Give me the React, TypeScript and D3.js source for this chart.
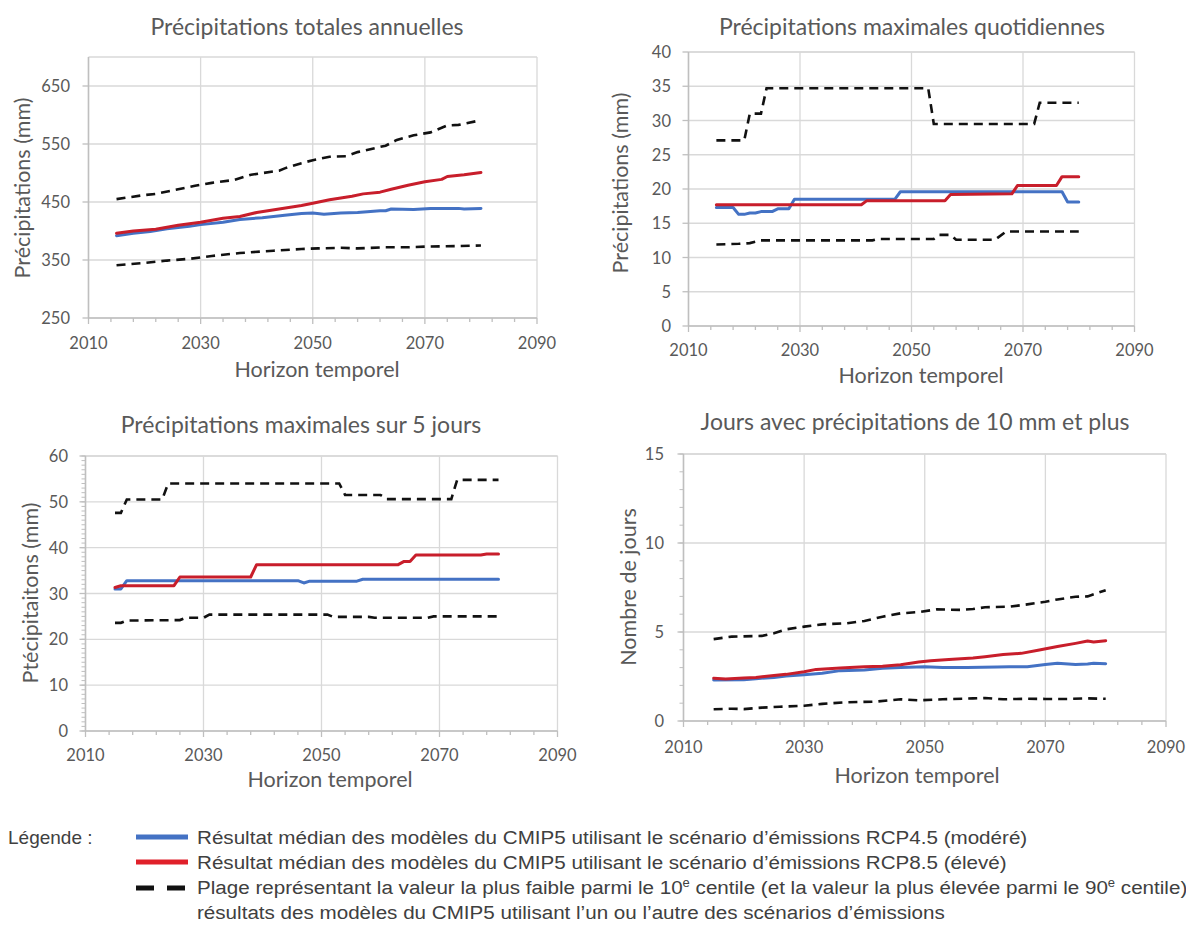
import React from 'react';
import * as d3 from 'd3';

type Pt = [number, number];

// Précipitations totales annuelles (mm)
const totalRcp45: Pt[] = [[2015, 392], [2018, 396], [2021, 399], [2024, 404], [2028, 408], [2030, 411], [2034, 415], [2037, 420], [2041, 423], [2045, 427], [2048, 430], [2050, 431], [2052, 429], [2055, 431], [2058, 432], [2062, 435], [2063, 435], [2064, 438], [2068, 437], [2071, 439], [2074, 439], [2076, 439], [2077, 438], [2080, 439]];
const totalRcp85: Pt[] = [[2015, 396], [2018, 400], [2022, 403], [2026, 410], [2030, 415], [2034, 422], [2037, 425], [2040, 432], [2044, 438], [2048, 444], [2050, 448], [2053, 454], [2057, 460], [2059, 464], [2062, 467], [2064, 472], [2067, 479], [2070, 485], [2073, 489], [2074, 494], [2077, 497], [2080, 501]];
const totalLow: Pt[] = [[2015, 341], [2020, 345], [2024, 349], [2028, 352], [2032, 357], [2037, 362], [2043, 366], [2048, 369], [2051, 370], [2055, 371], [2058, 370], [2063, 372], [2067, 372], [2070, 373], [2076, 374], [2080, 375]];
const totalHigh: Pt[] = [[2015, 455], [2020, 462], [2022, 464], [2026, 472], [2029, 478], [2032, 483], [2036, 488], [2039, 497], [2044, 504], [2045, 508], [2048, 517], [2050, 522], [2053, 528], [2056, 529], [2058, 536], [2062, 545], [2063, 547], [2065, 557], [2068, 565], [2071, 570], [2074, 582], [2076, 583], [2080, 591]];

// Précipitations maximales quotidiennes (mm)
const dailyRcp45: Pt[] = [[2015, 17.3], [2018, 17.3], [2019, 16.3], [2020, 16.3], [2021, 16.5], [2022, 16.5], [2023, 16.7], [2025, 16.7], [2026, 17.1], [2028, 17.1], [2029, 18.5], [2047, 18.5], [2048, 19.6], [2077, 19.6], [2078, 18.1], [2080, 18.1]];
const dailyRcp85: Pt[] = [[2015, 17.7], [2041, 17.7], [2042, 18.3], [2056, 18.3], [2057, 19.2], [2068, 19.3], [2069, 20.5], [2076, 20.5], [2077, 21.8], [2080, 21.8]];
const dailyLow: Pt[] = [[2015, 11.9], [2019, 12.0], [2021, 12.1], [2023, 12.5], [2043, 12.5], [2044, 12.7], [2054, 12.7], [2055, 13.3], [2057, 13.3], [2058, 12.6], [2065, 12.6], [2067, 13.8], [2080, 13.8]];
const dailyHigh: Pt[] = [[2015, 27.1], [2020, 27.1], [2021, 31.0], [2023, 31.0], [2024, 34.7], [2053, 34.7], [2054, 29.5], [2072, 29.5], [2073, 32.6], [2080, 32.6]];

// Précipitations maximales sur 5 jours (mm)
const fiveDayRcp45: Pt[] = [[2015, 31.0], [2016, 31.0], [2017, 32.8], [2046, 32.8], [2047, 32.3], [2048, 32.7], [2056, 32.7], [2057, 33.1], [2080, 33.1]];
const fiveDayRcp85: Pt[] = [[2015, 31.3], [2016, 31.7], [2025, 31.7], [2026, 33.6], [2038, 33.6], [2039, 36.3], [2063, 36.3], [2064, 37.0], [2065, 37.0], [2066, 38.4], [2077, 38.4], [2078, 38.6], [2080, 38.6]];
const fiveDayLow: Pt[] = [[2015, 23.6], [2016, 23.6], [2017, 24.1], [2026, 24.2], [2027, 24.7], [2030, 24.7], [2031, 25.4], [2051, 25.4], [2052, 24.9], [2058, 24.9], [2059, 24.7], [2068, 24.7], [2069, 25.0], [2080, 25.0]];
const fiveDayHigh: Pt[] = [[2015, 47.6], [2016, 47.6], [2017, 50.5], [2023, 50.5], [2024, 54.0], [2053, 54.0], [2054, 51.5], [2060, 51.5], [2061, 50.6], [2072, 50.6], [2073, 54.8], [2080, 54.8]];

// Jours avec précipitations de 10 mm et plus
const daysRcp45: Pt[] = [[2015, 2.3], [2020, 2.32], [2022, 2.38], [2025, 2.45], [2027, 2.53], [2030, 2.6], [2033, 2.68], [2036, 2.83], [2040, 2.87], [2043, 2.96], [2046, 3.0], [2050, 3.05], [2053, 3.01], [2057, 3.0], [2062, 3.03], [2064, 3.05], [2067, 3.05], [2070, 3.18], [2072, 3.24], [2075, 3.18], [2077, 3.2], [2078, 3.24], [2080, 3.22]];
const daysRcp85: Pt[] = [[2015, 2.4], [2017, 2.36], [2020, 2.42], [2022, 2.45], [2025, 2.55], [2027, 2.62], [2030, 2.77], [2032, 2.9], [2036, 2.98], [2040, 3.05], [2043, 3.07], [2046, 3.16], [2049, 3.31], [2051, 3.39], [2054, 3.45], [2058, 3.54], [2060, 3.61], [2063, 3.73], [2066, 3.8], [2069, 3.99], [2072, 4.18], [2075, 4.36], [2077, 4.49], [2078, 4.44], [2080, 4.51]];
const daysLow: Pt[] = [[2015, 0.66], [2018, 0.69], [2020, 0.67], [2023, 0.75], [2026, 0.8], [2030, 0.86], [2033, 0.96], [2037, 1.05], [2042, 1.09], [2046, 1.22], [2049, 1.16], [2053, 1.22], [2058, 1.27], [2060, 1.29], [2063, 1.22], [2067, 1.25], [2070, 1.24], [2074, 1.24], [2077, 1.27], [2080, 1.25]];
const daysHigh: Pt[] = [[2015, 4.6], [2018, 4.74], [2023, 4.78], [2025, 4.93], [2027, 5.15], [2030, 5.3], [2033, 5.43], [2037, 5.49], [2040, 5.62], [2043, 5.86], [2046, 6.05], [2049, 6.12], [2052, 6.27], [2056, 6.24], [2058, 6.29], [2060, 6.39], [2064, 6.42], [2067, 6.55], [2070, 6.7], [2072, 6.83], [2075, 6.98], [2077, 7.0], [2080, 7.35]];

const xTickLabels = [2010, 2030, 2050, 2070, 2090];

const BLUE = '#4472c4';
const RED = '#c81e2b';
const TEXT = '#595959';
const GRID = '#d9d9d9';
const AXIS = '#bfbfbf';
const FONT = 'Lato, "Open Sans", sans-serif';

interface PanelSpec {
  title: string;
  yTitle: string;
  yDomain: [number, number];
  yTicks: number[];
  yMinorStep?: number;
  box: { left: number; right: number; top: number; bottom: number };
  labelY: number;
  yLabelRight: number;
  titlePos: [number, number];
  xTitlePos: [number, number];
  yTitlePos: [number, number];
  rcp45: Pt[];
  rcp85: Pt[];
  low: Pt[];
  high: Pt[];
}

const panels: PanelSpec[] = [
  {
    title: 'Précipitations totales annuelles',
    yTitle: 'Précipitations (mm)',
    yDomain: [250, 700],
    yTicks: [250, 350, 450, 550, 650],
    box: { left: 88.5, right: 537, top: 57, bottom: 318 },
    labelY: 343,
    yLabelRight: 70,
    titlePos: [307, 26],
    xTitlePos: [317, 369],
    yTitlePos: [22, 188],
    rcp45: totalRcp45, rcp85: totalRcp85, low: totalLow, high: totalHigh,
  },
  {
    title: 'Précipitations maximales quotidiennes',
    yTitle: 'Précipitations (mm)',
    yDomain: [0, 40],
    yTicks: [0, 5, 10, 15, 20, 25, 30, 35, 40],
    box: { left: 688.5, right: 1134.5, top: 52, bottom: 326 },
    labelY: 350,
    yLabelRight: 671,
    titlePos: [912, 26],
    xTitlePos: [921, 375],
    yTitlePos: [620, 183],
    rcp45: dailyRcp45, rcp85: dailyRcp85, low: dailyLow, high: dailyHigh,
  },
  {
    title: 'Précipitations maximales sur 5 jours',
    yTitle: 'Ptécipitaitons (mm)',
    yDomain: [0, 60],
    yTicks: [0, 10, 20, 30, 40, 50, 60],
    yMinorStep: 1,
    box: { left: 85.5, right: 557.5, top: 456, bottom: 731 },
    labelY: 755,
    yLabelRight: 68,
    titlePos: [301, 424],
    xTitlePos: [330, 779],
    yTitlePos: [29.5, 593],
    rcp45: fiveDayRcp45, rcp85: fiveDayRcp85, low: fiveDayLow, high: fiveDayHigh,
  },
  {
    title: 'Jours avec précipitations de 10 mm et plus',
    yTitle: 'Nombre de jours',
    yDomain: [0, 15],
    yTicks: [0, 5, 10, 15],
    yMinorStep: 1,
    box: { left: 683.5, right: 1166, top: 454, bottom: 721 },
    labelY: 747,
    yLabelRight: 664,
    titlePos: [915, 421],
    xTitlePos: [917, 775],
    yTitlePos: [628, 587],
    rcp45: daysRcp45, rcp85: daysRcp85, low: daysLow, high: daysHigh,
  },
];

const Panel: React.FC<{ p: PanelSpec }> = ({ p }) => {
  const { box } = p;
  const x = d3.scaleLinear().domain([2010, 2090]).range([box.left, box.right]);
  const y = d3.scaleLinear().domain(p.yDomain).range([box.bottom, box.top]);
  const line = d3.line<Pt>().x(d => x(d[0])).y(d => y(d[1]));
  const xMinor = d3.range(2010, 2091, 4);
  const yMinor = p.yMinorStep ? d3.range(p.yDomain[0], p.yDomain[1] + 0.001, p.yMinorStep) : [];

  return (
    <g>
      <text x={p.titlePos[0]} y={p.titlePos[1]} textAnchor="middle" dominantBaseline="central"
        fontSize={23} fill={TEXT}>{p.title}</text>

      {/* gridlines */}
      {p.yTicks.map(t => (
        <line key={'gy' + t} x1={box.left} x2={box.right} y1={y(t)} y2={y(t)} stroke={GRID} strokeWidth={1.3} />
      ))}
      {xTickLabels.map(t => (
        <line key={'gx' + t} x1={x(t)} x2={x(t)} y1={box.top} y2={box.bottom} stroke={GRID} strokeWidth={1.3} />
      ))}
      <line x1={box.left} x2={box.right} y1={box.top} y2={box.top} stroke={GRID} strokeWidth={1.3} />

      {/* axes */}
      <line x1={box.left} x2={box.left} y1={box.top} y2={box.bottom} stroke={AXIS} strokeWidth={1.5} />
      <line x1={box.left} x2={box.right} y1={box.bottom} y2={box.bottom} stroke={AXIS} strokeWidth={1.5} />
      {xMinor.map(t => (
        <line key={'xm' + t} x1={x(t)} x2={x(t)} y1={box.bottom} y2={box.bottom + ((t - 2010) % 20 === 0 ? 6 : 4)}
          stroke={AXIS} strokeWidth={1.3} />
      ))}
      {yMinor.map(t => (
        <line key={'ym' + t} x1={box.left - 4} x2={box.left} y1={y(t)} y2={y(t)} stroke={AXIS} strokeWidth={1} />
      ))}
      {p.yTicks.map(t => (
        <line key={'yt' + t} x1={box.left - 6} x2={box.left} y1={y(t)} y2={y(t)} stroke={AXIS} strokeWidth={1.3} />
      ))}

      {/* tick labels */}
      {p.yTicks.map(t => (
        <text key={'yl' + t} x={p.yLabelRight} y={y(t)} textAnchor="end" dominantBaseline="central"
          fontSize={16.5} fill={TEXT}>{t}</text>
      ))}
      {xTickLabels.map(t => (
        <text key={'xl' + t} x={x(t)} y={p.labelY} textAnchor="middle" dominantBaseline="central"
          fontSize={16.5} fill={TEXT}>{t}</text>
      ))}

      {/* axis titles */}
      <text x={p.xTitlePos[0]} y={p.xTitlePos[1]} textAnchor="middle" dominantBaseline="central"
        fontSize={21.5} fill={TEXT}>Horizon temporel</text>
      <text transform={`translate(${p.yTitlePos[0]},${p.yTitlePos[1]}) rotate(-90)`} textAnchor="middle"
        dominantBaseline="central" fontSize={21.5} fill={TEXT}>{p.yTitle}</text>

      {/* series */}
      <path d={line(p.high) ?? ''} fill="none" stroke="#111" strokeWidth={2.6} strokeDasharray="9 6" />
      <path d={line(p.low) ?? ''} fill="none" stroke="#111" strokeWidth={2.6} strokeDasharray="9 6" />
      <path d={line(p.rcp45) ?? ''} fill="none" stroke={BLUE} strokeWidth={3} strokeLinejoin="round" strokeLinecap="round" />
      <path d={line(p.rcp85) ?? ''} fill="none" stroke={RED} strokeWidth={3} strokeLinejoin="round" strokeLinecap="round" />
    </g>
  );
};

const legendItems = [
  { kind: 'blue', y: 837 },
  { kind: 'red', y: 862 },
  { kind: 'dash', y: 888 },
];

const App: React.FC = () => {
  return (
    <svg width={1186} height={932} style={{ position: 'absolute', left: 0, top: 0, background: '#fff' }}
      fontFamily={FONT}>
      <rect width={1186} height={932} fill="#fff" />
      {panels.map((p, i) => <Panel key={i} p={p} />)}

      <g fontFamily='"Liberation Sans", Arial, sans-serif' fontSize={19} fill="#404040">
        <text x={8} y={844}>Légende :</text>
        {legendItems.map(it => (
          <line key={it.kind} x1={136} x2={188} y1={it.y} y2={it.y}
            stroke={it.kind === 'blue' ? BLUE : it.kind === 'red' ? '#e0202a' : '#111'}
            strokeWidth={5} strokeDasharray={it.kind === 'dash' ? '18 13' : undefined} />
        ))}
        <g transform="translate(197,0) scale(1.085,1)">
          <text x={0} y={844}>Résultat médian des modèles du CMIP5 utilisant le scénario d’émissions RCP4.5 (modéré)</text>
          <text x={0} y={869}>Résultat médian des modèles du CMIP5 utilisant le scénario d’émissions RCP8.5 (élevé)</text>
          <text x={0} y={894}>
            Plage représentant la valeur la plus faible parmi le 10<tspan dy={-7} fontSize={12}>e</tspan>
            <tspan dy={7}> centile (et la valeur la plus élevée parmi le 90</tspan>
            <tspan dy={-7} fontSize={12}>e</tspan><tspan dy={7}> centile)</tspan>
          </text>
          <text x={0} y={919}>résultats des modèles du CMIP5 utilisant l’un ou l’autre des scénarios d’émissions</text>
        </g>
      </g>
    </svg>
  );
};

export default App;
